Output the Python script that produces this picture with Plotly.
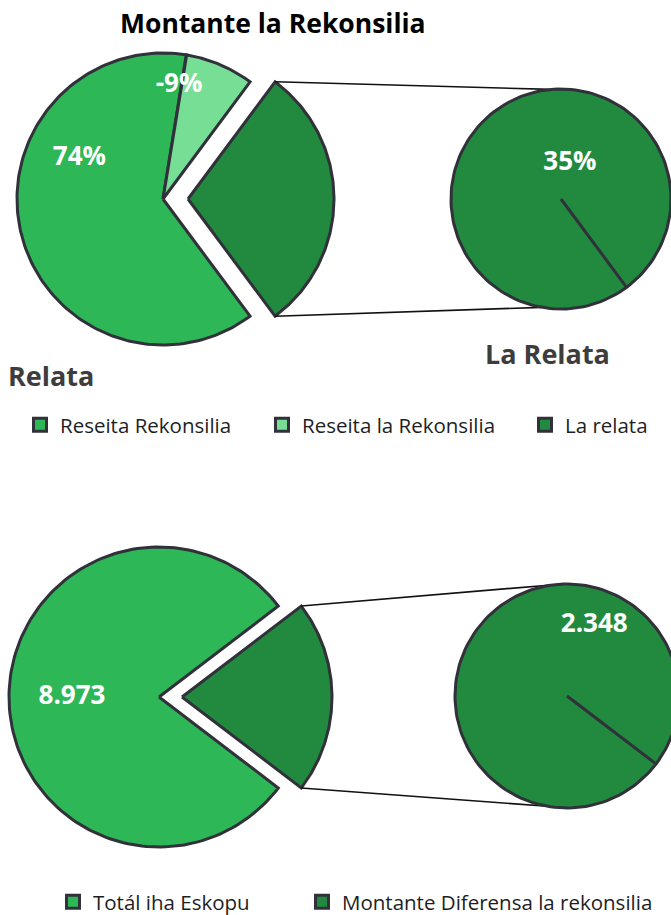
import numpy as np
import plotly.graph_objects as go

# top chart: last value is the slice split out into the second pie
top_labels = ["Reseita Rekonsilia", "Reseita la Rekonsilia", "La relata"]
top_values = [0.74, -0.09, 0.35]
top_colors = ["#2DB757", "#77DE96", "#228A3E"]

bottom_labels = ["Totál iha Eskopu", "Montante Diferensa la rekonsilia"]
bottom_values = [8973, 2348]
bottom_colors = ["#2DB757", "#228A3E"]

W, H = 671, 915
EDGE = "#30313A"
FONT = "Open Sans"

fig = go.Figure()
legends = {}


def arc(cx, cy, r, a0, a1, n=160):
    t = np.radians(np.linspace(a0, a1, n))
    return cx + r * np.cos(t), cy - r * np.sin(t)


def wedge(cx, cy, r, a0, a1):
    ax, ay = arc(cx, cy, r, a0, a1)
    return np.r_[cx, ax, cx], np.r_[cy, ay, cy]


def polar(cx, cy, a, d):
    return cx + d * np.cos(np.radians(a)), cy - d * np.sin(np.radians(a))


def pie_of_pie(values, names, colors, texts, main, sec, explode,
               main_lab, sec_lab, leg_x, leg_y):
    sizes = np.abs(values)
    total = sizes.sum()
    half = 180 * sizes[-1] / total
    cx, cy, r = main
    sx, sy, sr = sec

    # main pie goes clockwise from the lower edge of the split slice
    start = -half
    for i in range(len(values) - 1):
        end = start - 360 * sizes[i] / total
        xs, ys = wedge(cx, cy, r, start, end)
        fig.add_trace(go.Scatter(x=xs, y=ys, mode="lines", fill="toself",
                                 fillcolor=colors[i], line=dict(color=EDGE, width=3),
                                 showlegend=False, hoverinfo="skip"))
        start = end

    # exploded slice
    ex = cx + explode
    xs, ys = wedge(ex, cy, r, -half, half)
    fig.add_trace(go.Scatter(x=xs, y=ys, mode="lines", fill="toself",
                             fillcolor=colors[-1], line=dict(color=EDGE, width=3),
                             showlegend=False, hoverinfo="skip"))

    # connector lines
    for a_tip, a_sec in [(half, 95), (-half, -100)]:
        x0, y0 = polar(ex, cy, a_tip, r)
        x1, y1 = polar(sx, sy, a_sec, sr)
        fig.add_trace(go.Scatter(x=[x0, x1], y=[y0, y1], mode="lines",
                                 line=dict(color="#111111", width=1.6),
                                 showlegend=False, hoverinfo="skip"))

    # second pie (single slice)
    xs, ys = wedge(sx, sy, sr, -half, 360 - half)
    fig.add_trace(go.Scatter(x=xs, y=ys, mode="lines", fill="toself",
                             fillcolor=colors[-1], line=dict(color=EDGE, width=3),
                             showlegend=False, hoverinfo="skip"))

    # data labels
    lx, ly = [], []
    for a, d in main_lab:
        p = polar(cx, cy, a, d)
        lx.append(p[0]); ly.append(p[1])
    p = polar(sx, sy, *sec_lab)
    lx.append(p[0]); ly.append(p[1])
    fig.add_trace(go.Scatter(x=lx, y=ly, mode="text", text=texts,
                             textfont=dict(family=FONT, size=26, color="white",
                                           weight="bold"),
                             showlegend=False, hoverinfo="skip"))

    # one legend box per entry so each sits where the original has it
    for n, c, mx in zip(names, colors, leg_x):
        lid = "legend" if not legends else f"legend{len(legends) + 1}"
        legends[lid] = dict(x=(mx - 3 - 20) / W, y=1 - leg_y / H)
        fig.add_trace(go.Scatter(x=[None], y=[None], mode="markers", name=n,
                                 legend=lid,
                                 marker=dict(symbol="square", size=13, color=c,
                                             line=dict(color=EDGE, width=3))))


pie_of_pie(top_values, top_labels, top_colors,
           [f"{v:.0%}" for v in top_values],
           main=(163, 199, 146), sec=(561, 199, 110), explode=25,
           main_lab=[(154, 93), (82, 115)], sec_lab=(76, 37),
           leg_x=[43, 285, 548], leg_y=425)

pie_of_pie(bottom_values, bottom_labels, bottom_colors,
           [f"{v:,}".replace(",", ".") for v in bottom_values],
           main=(159, 697, 150), sec=(567, 696, 112), explode=23,
           main_lab=[(180, 87)], sec_lab=(69, 76),
           leg_x=[76, 325], leg_y=902)

ann = dict(showarrow=False, font=dict(family=FONT, size=27, color="#3D3D3D",
                                      weight="bold"))
fig.add_annotation(x=273, y=23, text="Montante la Rekonsilia",
                   **{**ann, "font": dict(family=FONT, size=26.5, color="black", weight="bold")})
fig.add_annotation(x=51, y=375, text="Relata", **ann)
fig.add_annotation(x=547, y=353, text="La Relata", **ann)

leg = dict(orientation="h", xanchor="left", yanchor="middle",
           bgcolor="rgba(0,0,0,0)", font=dict(family=FONT, size=20.5, color="#1E1E1E"))
fig.update_layout(
    width=W, height=H,
    margin=dict(l=0, r=0, t=0, b=0, autoexpand=False),
    paper_bgcolor="white", plot_bgcolor="white",
    xaxis=dict(range=[0, W], visible=False, fixedrange=True),
    yaxis=dict(range=[H, 0], visible=False, fixedrange=True),
    **{k: {**leg, **v} for k, v in legends.items()},
)

# drop the default page margin so the figure fills the window exactly
page_css = ("document.body.style.margin='0';"
            "document.documentElement.style.overflow='hidden';")
fig.write_html("out.html", config={"displayModeBar": False}, post_script=page_css)
